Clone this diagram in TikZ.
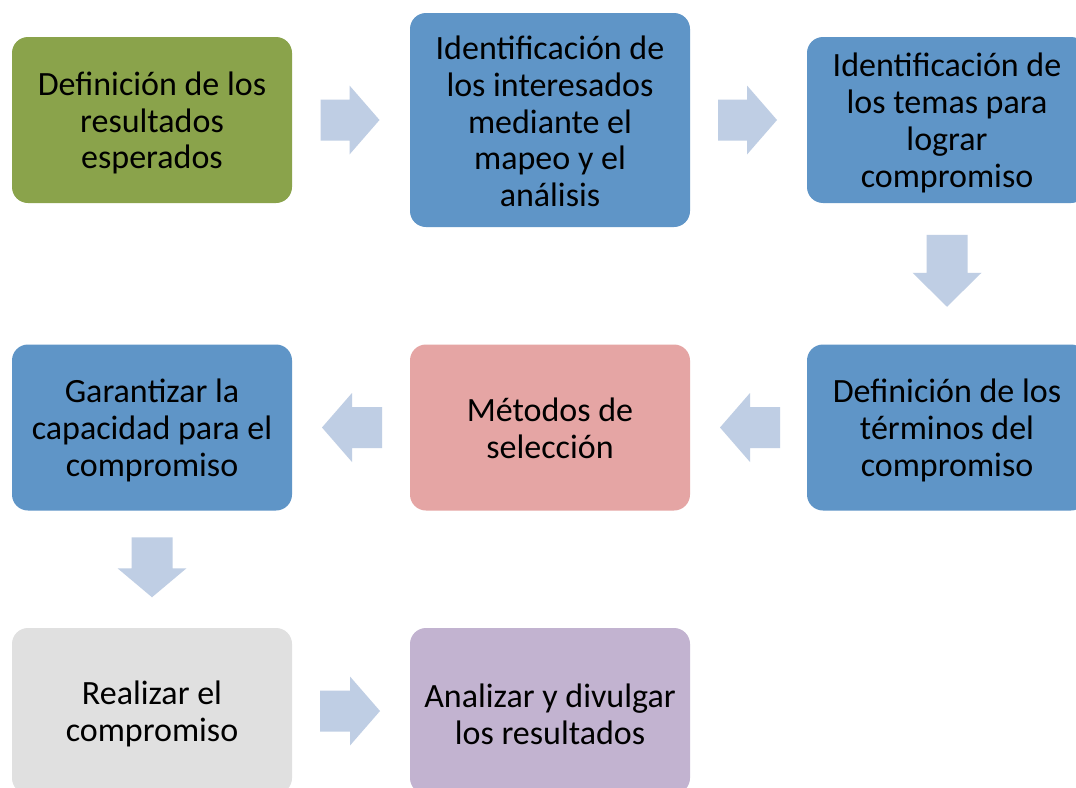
\documentclass[tikz,border=0pt]{standalone}
\usepackage{fontspec}
\setmainfont{Carlito}
\usetikzlibrary{calc}
\definecolor{cgreen}{HTML}{8AA34B}
\definecolor{cblue}{HTML}{5F95C7}
\definecolor{cpink}{HTML}{E5A5A4}
\definecolor{cgray}{HTML}{E0E0E0}
\definecolor{cpurple}{HTML}{C2B3D0}
\definecolor{carrow}{HTML}{BFCEE4}
\tikzset{
  box/.style={rounded corners=16pt, minimum width=280pt, minimum height=166pt,
    inner sep=0pt},
  boxtext/.style={align=center, inner sep=0pt, yshift=-3pt,
    font=\fontsize{34}{36.8}\selectfont, text=black},
  pics/barrow/.style 2 args={code={
    \fill[carrow] ({-(#1+#2)/2},-20.5) -- ({(#1-#2)/2},-20.5) -- ({(#1-#2)/2},-34.5)
      -- ({(#1+#2)/2},0) -- ({(#1-#2)/2},34.5) -- ({(#1-#2)/2},20.5)
      -- ({-(#1+#2)/2},20.5) -- cycle;
  }}
}
\begin{document}
\begin{tikzpicture}[x=1pt,y=-1pt]
\useasboundingbox (0,0) rectangle (1076,787);
\clip (0,0) rectangle (1076,787);
\fill[white] (0,0) rectangle (1076,787);
% row 1
\node[box, fill=cgreen, label={[boxtext]center:{Definición de los\\resultados\\esperados}}] (b1) at (152,120) {};
\node[box, fill=cblue, minimum height=214pt, label={[boxtext, yshift=1.5pt]center:{Identificación de\\los interesados\\mediante el\\mapeo y el\\análisis}}] (b2) at (550,120) {};
\node[box, fill=cblue, label={[boxtext]center:{Identificación de\\los temas para\\lograr\\compromiso}}] (b3) at (947,120) {};
% row 2
\node[box, fill=cblue, label={[boxtext]center:{Garantizar la\\capacidad para el\\compromiso}}] (b4) at (152,427.5) {};
\node[box, fill=cpink, label={[boxtext, yshift=2.5pt]center:{Métodos de\\selección}}] (b5) at (550,427.5) {};
\node[box, fill=cblue, label={[boxtext]center:{Definición de los\\términos del\\compromiso}}] (b6) at (947,427.5) {};
% row 3
\node[box, fill=cgray, label={[boxtext]center:{Realizar el\\compromiso}}] (b7) at (152,711) {};
\node[box, fill=cpurple, label={[boxtext]center:{Analizar y divulgar\\los resultados}}] (b8) at (550,711) {};
% arrows
\path (b1.east) -- (b2.west |- b1.east) coordinate[midway] (a1);
\pic at ($(a1)+(-1,0)$) {barrow={29}{30}};
\path (b2.east |- b3.west) -- (b3.west) coordinate[midway] (a2);
\pic at ($(a2)+(-1,0)$) {barrow={29}{30}};
\path (b3.south) -- (b6.north) coordinate[midway] (a3);
\pic[rotate=-90] at ($(a3)+(0,-3)$) {barrow={38}{34}};
\path (b6.west) -- (b5.east) coordinate[midway] (a4);
\pic[rotate=180] at ($(a4)+(1.5,0)$) {barrow={30}{30}};
\path (b5.west) -- (b4.east) coordinate[midway] (a5);
\pic[rotate=180] at ($(a5)+(1,0)$) {barrow={30}{30}};
\path (b4.south) -- (b7.north) coordinate[midway] (a6);
\pic[rotate=-90] at ($(a6)+(0,-2)$) {barrow={31}{29}};
\path (b7.east) -- (b8.west) coordinate[midway] (a7);
\pic at ($(a7)+(-1,0)$) {barrow={30}{30}};
\end{tikzpicture}
\end{document}
